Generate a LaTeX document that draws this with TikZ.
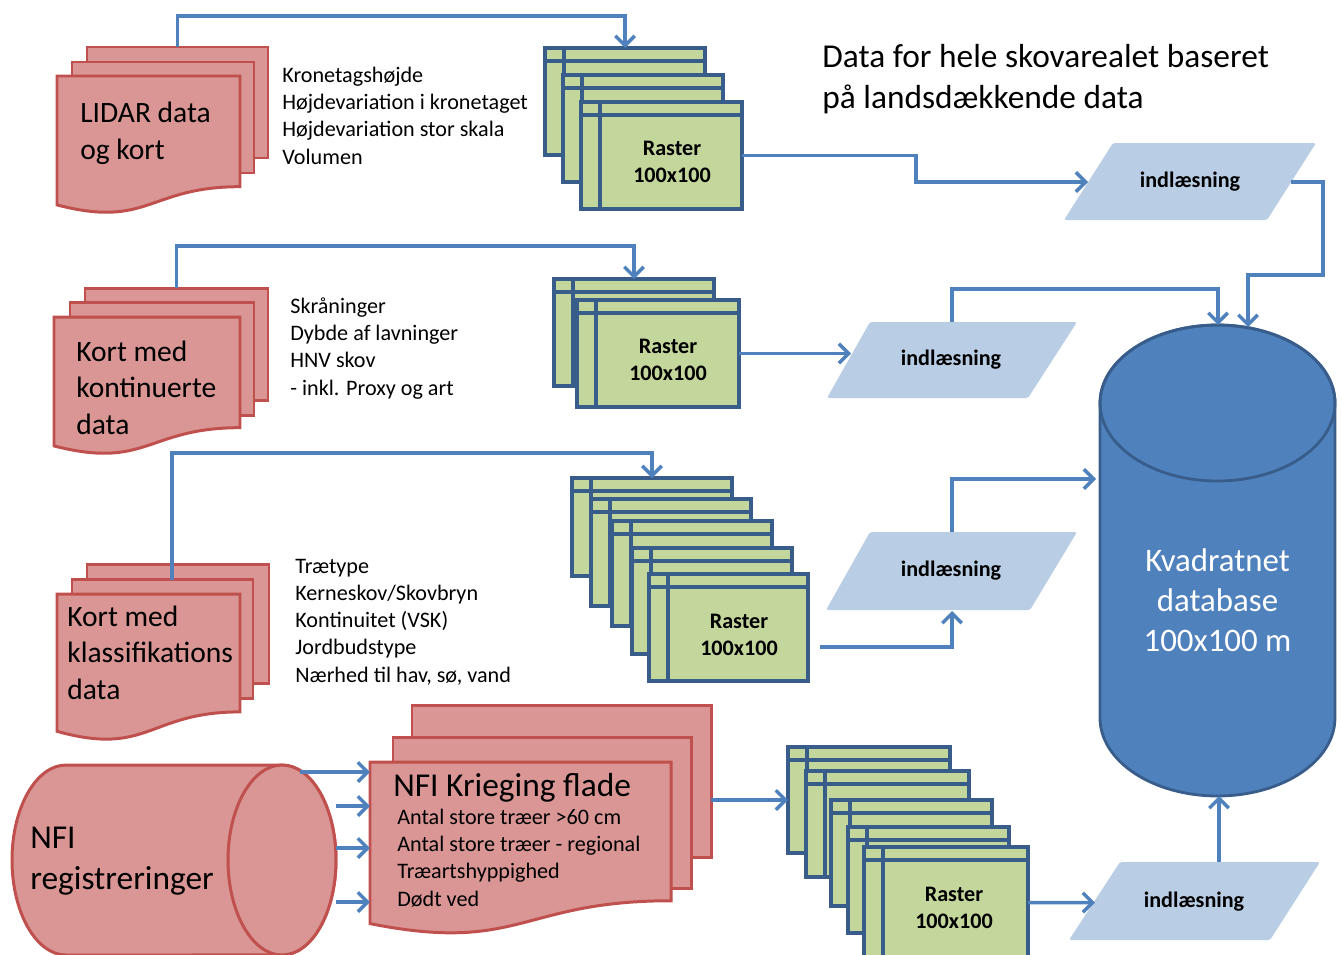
\documentclass[tikz,border=0pt]{standalone}
\usepackage{fontspec}
\setmainfont{Carlito}
\usetikzlibrary{arrows.meta,fit,calc}
\definecolor{redfill}{HTML}{D99694}
\definecolor{redline}{HTML}{C0504D}
\definecolor{greenfill}{HTML}{C3D69B}
\definecolor{frameline}{HTML}{385D8A}
\definecolor{arrowblue}{HTML}{4F81BD}
\definecolor{parafill}{HTML}{B9CDE5}
\definecolor{dbfill}{HTML}{4F81BD}
\definecolor{dbline}{HTML}{385D8A}
\newcommand\rfr[5]{%
  \node[rast, fit={(#2,#3) (#4,#5)}] (#1) {};
  \draw[rastln] ($(#1.north west)+(0,13)$) -- ($(#1.north east)+(0,13)$);
  \draw[rastln] ($(#1.north west)+(19,0)$) -- ($(#1.south west)+(19,0)$);
}
\newcommand\docfront[5]{%
  \draw[redpage] (#2,#3) -- (#4,#3) -- (#4,{#3+0.802*#5})
    .. controls ({(#2+#4)/2},{#3+0.802*#5}) and ({(#2+#4)/2},{#3+1.1075*#5}) .. (#2,{#3+0.934*#5}) -- cycle;
  \coordinate (#1) at (#2,#3);
}
\begin{document}
\begin{tikzpicture}[x=0.02cm,y=-0.02cm,
  redpage/.style={draw=redline, fill=redfill, line width=1.7pt},
  redrect/.style={redpage, inner sep=0pt, outer sep=0pt},
  rast/.style={draw=frameline, fill=greenfill, line width=1.8pt, inner sep=0pt, outer sep=0pt},
  rastln/.style={draw=frameline, line width=1.8pt},
  flow/.style={draw=arrowblue, line width=2pt, -{Straight Barb[length=5.5pt,width=11pt]}},
  para/.style={fill=parafill, rounded corners=1pt},
  smalltxt/.style={font=\fontsize{12.6}{15.4}\selectfont, align=left, inner sep=0pt, anchor=base west},
  bigtxt/.style={font=\fontsize{16.8}{20.5}\selectfont, align=left, inner sep=0pt, anchor=base west},
  hugetxt/.style={font=\fontsize{19}{23.3}\selectfont, align=left, inner sep=0pt, anchor=base west},
  rlab/.style={font=\bfseries\fontsize{12.6}{15.4}\selectfont, align=center, inner sep=0pt},
  plab/.style={font=\bfseries\fontsize{12.6}{15.4}\selectfont, inner sep=0pt},
]
\useasboundingbox (0,0) rectangle (1342,954);

% ---------- document stacks ----------
\node[redrect, fit={(87,47) (268,158)}] (lidB) {};
\node[redrect, fit={(72,62) (254,173)}] (lidM) {};
\docfront{lidF}{57}{76}{240}{138}
\node[bigtxt] (lidT) at (80,159) {LIDAR data\\og kort};

\node[redrect, fit={(85,288) (268,400)}] (konB) {};
\node[redrect, fit={(70,302) (254,415)}] (konM) {};
\docfront{konF}{54}{317}{240}{138}
\node[bigtxt] (konT) at (76,434) {Kort med\\kontinuerte\\data};

\node[redrect, fit={(87,564) (269,683)}] (klaB) {};
\node[redrect, fit={(72,579) (253,698)}] (klaM) {};
\docfront{klaF}{57}{594}{240}{147}
\node[bigtxt] (klaT) at (67,699) {Kort med\\klassifikations\\data};

\node[redrect, fit={(412,705) (711,857)}] (kriB) {};
\node[redrect, fit={(393,737) (691,888)}] (kriM) {};
\docfront{kriF}{370}{762}{671}{173}
\node[hugetxt] (kriT) at (393,796) {NFI Krieging flade};
\node[smalltxt] (kriL) at (397,906) {Antal store træer >60 cm\\Antal store træer - regional\\Træartshyppighed\\Dødt ved};

% ---------- text lists ----------
\node[smalltxt] (list1) at (282,164) {Kronetagshøjde\\Højdevariation i kronetaget\\Højdevariation stor skala\\Volumen};
\node[smalltxt] (list2) at (290,395) {Skråninger\\Dybde af lavninger\\HNV skov\\- inkl. Proxy og art};
\node[smalltxt] (list3) at (295,682) {Trætype\\Kerneskov/Skovbryn\\Kontinuitet (VSK)\\Jordbudstype\\Nærhed til hav, sø, vand};
\node[hugetxt] (title) at (822,108) {Data for hele skovarealet baseret\\på landsdækkende data};

% ---------- raster stacks ----------
\rfr{r1a}{545}{48}{705}{155}
\rfr{r1b}{563}{75}{723}{182}
\rfr{r1c}{581}{102}{742}{209}
\node[rlab] (r1t) at (672,162) {Raster\\100x100};

\rfr{r2a}{554}{279}{714}{386}
\rfr{r2b}{577}{300}{739}{407}
\node[rlab] (r2t) at (668,360) {Raster\\100x100};

\rfr{r3a}{572}{478}{732}{576}
\rfr{r3b}{591}{499}{751}{606}
\rfr{r3c}{612}{521}{772}{626}
\rfr{r3d}{632}{548}{792}{654}
\rfr{r3e}{649}{574}{808}{681}
\node[rlab] (r3t) at (739,635) {Raster\\100x100};

\rfr{r4a}{788}{747}{950}{853}
\rfr{r4b}{806}{771}{969}{877}
\rfr{r4c}{831}{800}{992}{906}
\rfr{r4d}{848}{827}{1009}{933}
\rfr{r4e}{864}{847}{1028}{958}
\node[rlab] (r4t) at (954,908) {Raster\\100x100};

% ---------- parallelograms ----------
\fill[para] (1113,143) -- (1316,143) -- (1267,220) -- (1064,220) -- cycle;
\node[plab] (p1) at (1190,182) {indlæsning};
\fill[para] (870,322) -- (1077,322) -- (1028,398) -- (827,398) -- cycle;
\node[plab] (p2) at (951,360) {indlæsning};
\fill[para] (870,532) -- (1077,532) -- (1030,610) -- (826,610) -- cycle;
\node[plab] (p3) at (951,571) {indlæsning};
\fill[para] (1120,862) -- (1320,862) -- (1270,940) -- (1069,940) -- cycle;
\node[plab] (p4) at (1194,902) {indlæsning};

\coordinate (p1w) at (1088,182);
\coordinate (p1e) at (1291,182);
\coordinate (p2w) at (851,354);
\coordinate (p2n) at (952,322);
\coordinate (p3s) at (952,611);
\coordinate (p3n) at (952,532);
\coordinate (p4w) at (1095,902.5);
\coordinate (p4n) at (1219,862);

% ---------- database cylinder ----------
\draw[fill=dbfill, draw=dbline, line width=1.6pt]
  (1100,403) -- (1100,718) arc[start angle=180, end angle=360, x radius=2.35cm, y radius=1.56cm]
  -- (1335,403) arc[start angle=0, end angle=180, x radius=2.35cm, y radius=1.56cm] -- cycle;
\draw[draw=dbline, line width=1.6pt] (1217.5,403) ellipse [x radius=2.35cm, y radius=1.56cm];
\node[font=\fontsize{18.7}{22.8}\selectfont, text=white, align=center, inner sep=0pt] (db) at (1217.5,600) {Kvadratnet\\database\\100x100 m};
\coordinate (dbt1) at (1218,325);
\coordinate (dbt2) at (1248,327);
\coordinate (dbw) at (1096,479);
\coordinate (dbb) at (1219,796);

% ---------- NFI cylinder ----------
\draw[redpage]
  (66,765) -- (282,765) arc[start angle=90, end angle=-90, x radius=1.08cm, y radius=1.9cm]
  -- (66,955) arc[start angle=270, end angle=90, x radius=1.08cm, y radius=1.9cm] -- cycle;
\draw[redpage] (282,860) ellipse [x radius=1.08cm, y radius=1.9cm];
\node[hugetxt] (nfi) at (30,889) {NFI\\registreringer};
\coordinate (n1) at (300,772);
\coordinate (n2) at (336,806);
\coordinate (n3) at (336,848);
\coordinate (n4) at (336,902);

% ---------- connectors ----------
\draw[flow] (lidB.north) -- ++(0,-31) -| (r1a.north);
\draw[flow] (r1c.east) -| (916,182) -- (p1w);
\draw[flow] (p1e) -| (1323,275) -| (dbt2);
\draw[flow] (p2n) -- ++(0,-33) -| (dbt1);
\draw[flow] (konB.north) -- ++(0,-42) -| (r2a.north);
\draw[flow] (r2b.east) -- (r2b.east -| p2w);
\coordinate (klasrc) at (172,580);
\draw[flow] (klasrc) -- ++(0,-127) -| (r3a.north);
\coordinate (r3out) at (820,647);
\draw[flow] (r3out) -| (p3s);
\draw[flow] (p3n) |- (dbw);
\draw[flow] (r4a.west -| kriB.east) -- (r4a.west);
\draw[flow] (r4e.east) -- (p4w);
\draw[flow] (p4n) -- (dbb);
\draw[flow] (n1) -- (n1 -| kriF);
\draw[flow] (n2) -- (n2 -| kriF);
\draw[flow] (n3) -- (n3 -| kriF);
\draw[flow] (n4) -- (n4 -| kriF);
\end{tikzpicture}
\end{document}
